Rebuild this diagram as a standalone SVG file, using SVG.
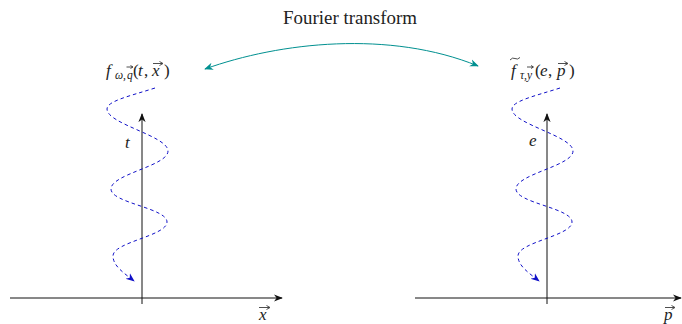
<svg xmlns="http://www.w3.org/2000/svg" width="682" height="324" viewBox="0 0 682 324">
<style>
.txt{font-family:"Liberation Serif","DejaVu Serif",serif;fill:#222;}
.it{font-style:italic;}
.ax{stroke:#111;stroke-width:1;fill:none;}
.wave{stroke:#1010c8;stroke-width:1;stroke-dasharray:3.5,3;fill:none;}
.ft{stroke:#009090;stroke-width:1;fill:none;}
.acc{stroke:#222;stroke-width:0.8;fill:none;}
</style>
<defs>
<marker id="ah" viewBox="0 0 10 10" refX="9" refY="5" markerWidth="9" markerHeight="9" markerUnits="userSpaceOnUse" orient="auto">
<path d="M0,1 L10,5 L0,9 L3,5 Z" fill="#111"/>
</marker>
<marker id="ahb" viewBox="0 0 10 10" refX="9" refY="5" markerWidth="9" markerHeight="9" markerUnits="userSpaceOnUse" orient="auto">
<path d="M0,1 L10,5 L0,9 L3,5 Z" fill="#1010c8"/>
</marker>
<marker id="aht" viewBox="0 0 10 10" refX="9" refY="5" markerWidth="9" markerHeight="9" markerUnits="userSpaceOnUse" orient="auto-start-reverse">
<path d="M0,1 L10,5 L0,9 L3,5 Z" fill="#009090"/>
</marker>
<path id="wavepath" d="M155,88 C130,96 107,101 107,109 C107,124 168,136 168,151 C168,166 111,174 111,189 C111,203 167,208 167,222 C167,236 113,242 113,256 C113,266 124,273 134,281"/>
</defs>

<g id="connectors">
<path class="ft" d="M205,69 C280,42 390,30 478,66" marker-start="url(#aht)" marker-end="url(#aht)"/>
</g>

<g id="title">
<text class="txt" x="350" y="24" font-size="18" text-anchor="middle" textLength="134" lengthAdjust="spacingAndGlyphs">Fourier transform</text>
</g>

<g id="left-plot">
<line class="ax" x1="10" y1="298" x2="282" y2="298" marker-end="url(#ah)"/>
<line class="ax" x1="142" y1="304" x2="142" y2="114" marker-end="url(#ah)"/>
<use href="#wavepath" class="wave" marker-end="url(#ahb)"/>
<text class="txt it" x="125" y="148" font-size="17">t</text>
<text class="txt it" x="259" y="320" font-size="17">x</text>
<path class="acc" d="M259,307.5 H269 M266.5,305.5 L270,307.5 L266.5,309.5"/>
<text class="txt" y="76" font-size="17"><tspan class="it" x="106">f</tspan><tspan class="it" font-size="11.5" x="115" y="79">ω,</tspan><tspan class="it" font-size="11.5" x="127" y="79">q</tspan><tspan x="133" y="76">(</tspan><tspan class="it" x="138">t</tspan><tspan x="144">,</tspan><tspan class="it" x="152">x</tspan><tspan x="164">)</tspan></text>
<path class="acc" d="M153,63.5 H162 M159.5,61.5 L163,63.5 L159.5,65.5"/>
<path class="acc" d="M126.5,67 H132.5 M130.5,65.5 L133,67 L130.5,68.5" stroke-width="0.7"/>
</g>

<g id="right-plot">
<line class="ax" x1="415" y1="298" x2="681" y2="298" marker-end="url(#ah)"/>
<line class="ax" x1="547" y1="304" x2="547" y2="114" marker-end="url(#ah)"/>
<use href="#wavepath" class="wave" transform="translate(405,0)" marker-end="url(#ahb)"/>
<text class="txt it" x="529" y="146" font-size="17">e</text>
<text class="txt it" x="664" y="320" font-size="17">p</text>
<path class="acc" d="M665,307.5 H674 M671.5,305.5 L675,307.5 L671.5,309.5"/>
<text class="txt" y="76" font-size="17"><tspan class="it" x="511">f</tspan><tspan class="it" font-size="11.5" x="520" y="79">τ,</tspan><tspan class="it" font-size="11.5" x="527" y="79">y</tspan><tspan x="535" y="76">(</tspan><tspan class="it" x="540">e</tspan><tspan x="548">,</tspan><tspan class="it" x="557">p</tspan><tspan x="569">)</tspan></text>
<path class="acc" d="M510,60 Q512.5,57 515,58.5 T520,57.5"/>
<path class="acc" d="M558,63.5 H567 M564.5,61.5 L568,63.5 L564.5,65.5"/>
<path class="acc" d="M527,67 H533 M531,65.5 L533.5,67 L531,68.5" stroke-width="0.7"/>
</g>
</svg>
